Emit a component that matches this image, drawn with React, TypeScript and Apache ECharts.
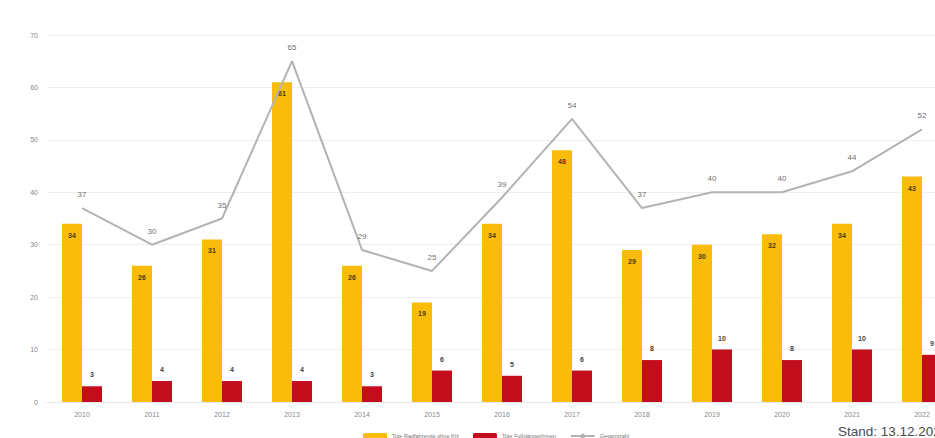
import React, { useEffect, useRef } from "react";
import * as echarts from "echarts";

const years = ["2010", "2011", "2012", "2013", "2014", "2015", "2016", "2017", "2018", "2019", "2020", "2021", "2022"];
const yellowValues = [34, 26, 31, 61, 26, 19, 34, 48, 29, 30, 32, 34, 43];
const redValues = [3, 4, 4, 4, 3, 6, 5, 6, 8, 10, 8, 10, 9];
const totalValues = [37, 30, 35, 65, 29, 25, 39, 54, 37, 40, 40, 44, 52];
const yTicks = { min: 0, max: 70, interval: 10 };
const seriesNames = ["Tote Radfahrende ohne Kfz", "Tote Fußgänger/innen", "Gesamtzahl"];
const standText = "Stand: 13.12.2022";

export default function App() {
  const ref = useRef<HTMLDivElement>(null);
  useEffect(() => {
    if (!ref.current) return;
    const chart = echarts.init(ref.current, null, { renderer: "svg" });
    chart.setOption({
      animation: false,
      backgroundColor: "#ffffff",
      textStyle: { fontFamily: "Liberation Sans, Arial, sans-serif" },
      grid: { left: 47, right: 23, top: 35, bottom: 48, containLabel: false },
      legend: {
        top: 428,
        left: 358,
        itemWidth: 24,
        itemHeight: 6,
        itemGap: 14,
        textStyle: { fontSize: 5.5, color: "#777" },
        data: seriesNames,
      },
      xAxis: {
        type: "category",
        data: years,
        axisLine: { show: true, lineStyle: { color: "#e6e6e6" } },
        axisTick: { show: false },
        axisLabel: { fontSize: 7, color: "#888", margin: 9 },
      },
      yAxis: {
        type: "value",
        min: yTicks.min,
        max: yTicks.max,
        interval: yTicks.interval,
        axisLine: { show: false },
        axisTick: { show: false },
        splitLine: { lineStyle: { color: "#eeeeee", width: 1 } },
        axisLabel: { fontSize: 7, color: "#888", margin: 9 },
      },
      graphic: [
        {
          type: "text",
          left: 838,
          top: 424,
          style: { text: standText, fontSize: 13.5, fill: "#4a4a4a", fontFamily: "Liberation Sans, sans-serif" },
        },
      ],
      series: [
        {
          name: seriesNames[0],
          type: "bar",
          data: yellowValues,
          barWidth: 20,
          barGap: "0%",
          itemStyle: { color: "#F9BC0B" },
          label: {
            show: true,
            position: "insideTop",
            distance: 8,
            fontSize: 7,
            fontWeight: "bold",
            color: "#4a3a10",
          },
        },
        {
          name: seriesNames[1],
          type: "bar",
          data: redValues,
          barWidth: 20,
          barGap: "0%",
          itemStyle: { color: "#C20E1C" },
          label: {
            show: true,
            position: "top",
            distance: 8,
            fontSize: 7,
            fontWeight: "bold",
            color: "#444",
          },
        },
        {
          name: seriesNames[2],
          type: "line",
          data: totalValues,
          symbol: "none",
          lineStyle: { color: "#b3b3b3", width: 2 },
          itemStyle: { color: "#b3b3b3" },
          z: 3,
        },
        {
          name: "labels",
          type: "scatter",
          data: totalValues,
          symbolSize: 1,
          itemStyle: { color: "rgba(0,0,0,0)" },
          silent: true,
          label: {
            show: true,
            position: "top",
            distance: 9,
            fontSize: 8,
            color: "#444",
          },
          z: 4,
        },
      ],
    });
    return () => chart.dispose();
  }, []);
  return (
    <div style={{ position: "fixed", left: 0, top: 0, width: 935, height: 438, overflow: "hidden", background: "#fff" }}>
      <div ref={ref} style={{ position: "absolute", left: 0, top: 0, width: 980, height: 450 }} />
    </div>
  );
}
